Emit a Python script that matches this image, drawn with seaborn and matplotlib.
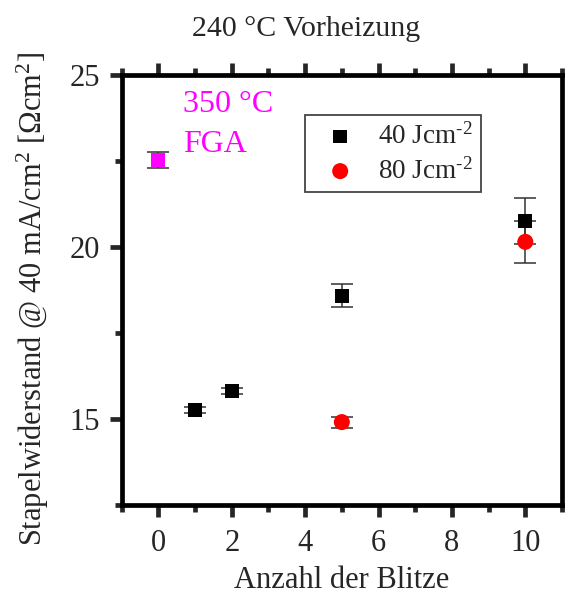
import matplotlib
matplotlib.use("Agg")
import matplotlib.pyplot as plt
import seaborn as sns
import pandas as pd
from matplotlib.ticker import MultipleLocator

# Data
fga_x = [0]
fga_y = [22.52]
fga_err = [0.23]

x_40 = [1, 2, 5, 10]
y_40 = [15.26, 15.81, 18.58, 20.76]
err_40 = [0.10, 0.09, 0.33, 0.67]

x_80 = [5, 10]
y_80 = [14.91, 20.15]
err_80 = [0.16, 0.62]

label_40 = "40 Jcm$^{\\text{-2}}$"
label_80 = "80 Jcm$^{\\text{-2}}$"

sns.set_style("ticks")
plt.rcParams['font.family'] = ['Liberation Serif', 'DejaVu Serif']
plt.rcParams['mathtext.fontset'] = 'custom'
plt.rcParams['mathtext.rm'] = 'Liberation Serif'
plt.rcParams['mathtext.it'] = 'Liberation Serif'

fig = plt.figure(figsize=(5.71, 5.97), dpi=100)
ax = fig.add_axes([0.2131, 0.1541, 0.7711, 0.7203])

df40 = pd.DataFrame({"x": x_40, "y": y_40})
df80 = pd.DataFrame({"x": x_80, "y": y_80})
dffga = pd.DataFrame({"x": fga_x, "y": fga_y})

ekw = dict(fmt="none", ecolor="#333333", elinewidth=1.1, capsize=8, capthick=1.1, zorder=2)
ax.errorbar(x_40, y_40, yerr=err_40, **ekw)
ax.errorbar(x_80, y_80, yerr=err_80, **ekw)
ax.errorbar(fga_x, fga_y, yerr=fga_err, **ekw)

sns.scatterplot(data=df40, x="x", y="y", marker="s", s=100, color="black",
                edgecolor="none", ax=ax, label=label_40, zorder=3)
sns.scatterplot(data=df80, x="x", y="y", marker="o", s=133, color="red",
                edgecolor="none", ax=ax, label=label_80, zorder=3)
sns.scatterplot(data=dffga, x="x", y="y", marker="s", s=100, color="#ff00ff",
                edgecolor="none", ax=ax, zorder=3, legend=False)

ax.set_xlim(-1, 11)
ax.set_ylim(12.5, 25)
ax.xaxis.set_major_locator(MultipleLocator(2))
ax.xaxis.set_minor_locator(MultipleLocator(1))
ax.yaxis.set_major_locator(MultipleLocator(5))
ax.yaxis.set_minor_locator(MultipleLocator(2.5))

for s in ax.spines.values():
    s.set_linewidth(3.4)
    s.set_color("black")
    s.set_visible(True)

ax.tick_params(which="major", direction="out", length=8.6, width=3.4, labelsize=22,
               top=True, bottom=True, left=True, right=False, labeltop=False)
ax.tick_params(which="minor", direction="out", length=5, width=3.4,
               top=True, bottom=True, left=True, right=False)
ax.tick_params(axis="x", which="major", pad=9)
ax.tick_params(axis="y", which="major", pad=7)

ax.set_xlabel("Anzahl der Blitze", fontsize=22)
ax.set_ylabel("Stapelwiderstand @ 40 mA/cm$^2$ [Ωcm$^2$]", fontsize=22)
ax.xaxis.set_label_coords(0.5, -0.143)
ax.yaxis.set_label_coords(-0.16, 0.48)

ax.text(0.66, 23.92, "350 °C", color="#ff00ff", fontsize=23, va="baseline", ha="left")
ax.text(0.66, 22.76, "FGA", color="#ff00ff", fontsize=23, va="baseline", ha="left")

fig.text(0.536, 0.9397, "240 °C Vorheizung", fontsize=21.5, ha="center", va="baseline")

leg = ax.legend(loc="upper left", bbox_to_anchor=(0.4163, 0.907), fontsize=19.5,
                frameon=True, fancybox=False, edgecolor="#444444", framealpha=1,
                handlelength=2.0, handletextpad=0.4, borderpad=0.3,
                labelspacing=0.3, borderaxespad=0, markerscale=1.0)
leg.get_frame().set_linewidth(1.3)

fig.savefig("out.png", dpi=100)
